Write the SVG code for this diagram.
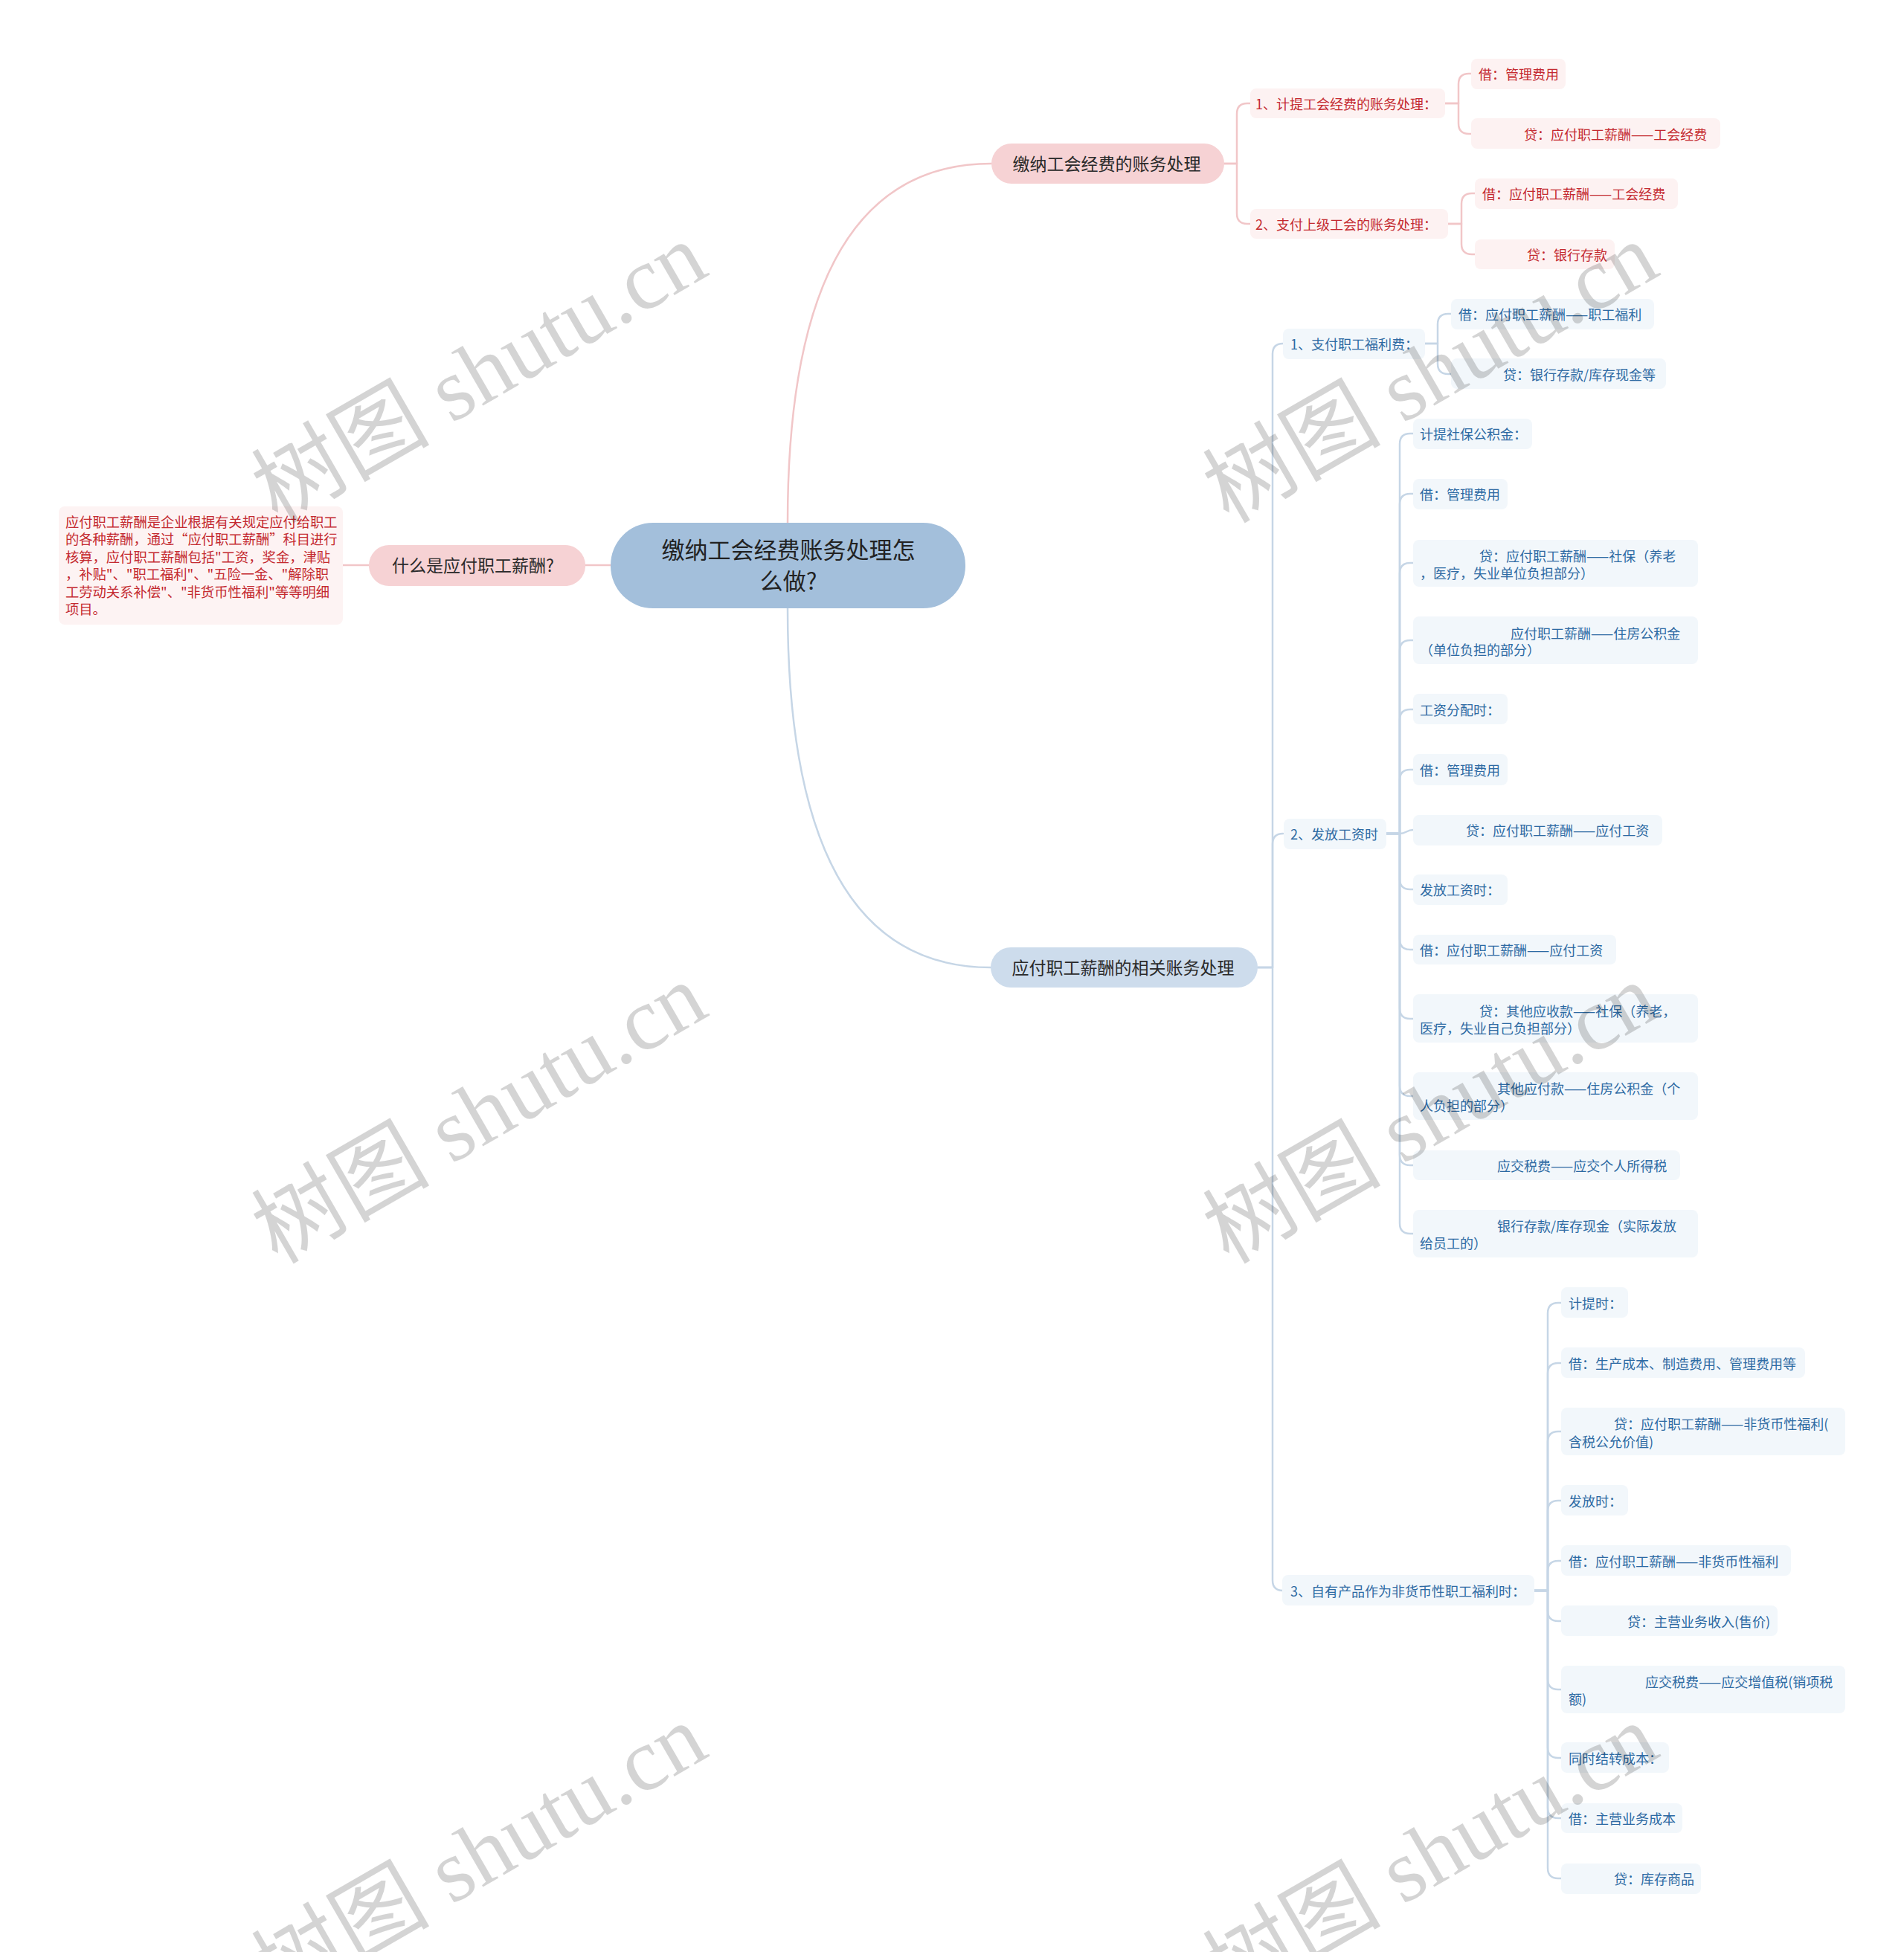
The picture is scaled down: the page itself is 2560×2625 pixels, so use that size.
<svg xmlns="http://www.w3.org/2000/svg" width="2560" height="2625" viewBox="0 0 2560 2625">
<style>
text{font-family:"Noto Sans CJK SC","Noto Sans",sans-serif;dominant-baseline:central}
.c{fill:none;stroke-width:2.5;stroke-linecap:round;stroke-linejoin:round}
.cp{stroke:#f1c6c8}
.cb{stroke:#c6d6e6}
.np{fill:#fdf2f2}
.nb{fill:#f2f7fb}
.tp{fill:#c42a30;font-size:18px}
.tb{fill:#2d6aa3;font-size:18px}
.t1{fill:#2a2a2a;font-size:23px;text-anchor:middle}
.wm{font-family:"Liberation Serif","Noto Sans CJK SC",serif;font-size:120px;fill:#000;fill-opacity:0.17;dominant-baseline:alphabetic}
</style>
<rect width="2560" height="2625" fill="#ffffff"/>

<g id="connectors">
  <path class="c cp" d="M1059,703 Q1059,220 1333,220"/>
  <path class="c cb" d="M1059,818 Q1059,1301 1332,1301"/>
  <path class="c cp" d="M787,760 L821,760"/>
  <path class="c cp" d="M461,760 L496,760"/>
  <!-- pink branch -->
  <path class="c cp" d="M1646,220 L1663,220 L1663,153 Q1663,139 1677,139 L1681,139"/>
  <path class="c cp" d="M1646,220 L1663,220 L1663,287 Q1663,301 1677,301 L1681,301"/>
  <path class="c cp" d="M1943,139 L1961,139 L1961,113 Q1961,99 1975,99 L1978,99"/>
  <path class="c cp" d="M1943,139 L1961,139 L1961,166 Q1961,180 1975,180 L1978,180"/>
  <path class="c cp" d="M1947,301 L1965,301 L1965,274 Q1965,260 1979,260 L1983,260"/>
  <path class="c cp" d="M1947,301 L1965,301 L1965,328 Q1965,342 1979,342 L1983,342"/>
  <!-- blue branch -->
  <path class="c cb" d="M1691,1301 L1711,1301 L1711,476 Q1711,462 1725,462"/>
  <path class="c cb" d="M1691,1301 L1711,1301 L1711,1135 Q1711,1121 1725,1121"/>
  <path class="c cb" d="M1691,1301 L1711,1301 L1711,2125 Q1711,2139 1725,2139"/>
  <path class="c cb" d="M1916,462 L1933,462 L1933,436 Q1933,422 1947,422 L1951,422"/>
  <path class="c cb" d="M1916,462 L1933,462 L1933,489 Q1933,503 1947,503 L1951,503"/>
  <path class="c cb" d="M1864,1121 L1882,1121 L1882,597 Q1882,583 1896,583 L1900,583"/>
  <path class="c cb" d="M1864,1121 L1882,1121 L1882,678 Q1882,664 1896,664 L1900,664"/>
  <path class="c cb" d="M1864,1121 L1882,1121 L1882,771 Q1882,757 1896,757 L1900,757"/>
  <path class="c cb" d="M1864,1121 L1882,1121 L1882,875 Q1882,861 1896,861 L1900,861"/>
  <path class="c cb" d="M1864,1121 L1882,1121 L1882,968 Q1882,954 1896,954 L1900,954"/>
  <path class="c cb" d="M1864,1121 L1882,1121 L1882,1049 Q1882,1035 1896,1035 L1900,1035"/>
  <path class="c cb" d="M1864,1121 L1882,1121 C1891,1121 1891,1116 1900,1116"/>
  <path class="c cb" d="M1864,1121 L1882,1121 L1882,1182 Q1882,1196 1896,1196 L1900,1196"/>
  <path class="c cb" d="M1864,1121 L1882,1121 L1882,1263 Q1882,1277 1896,1277 L1900,1277"/>
  <path class="c cb" d="M1864,1121 L1882,1121 L1882,1356 Q1882,1370 1896,1370 L1900,1370"/>
  <path class="c cb" d="M1864,1121 L1882,1121 L1882,1460 Q1882,1474 1896,1474 L1900,1474"/>
  <path class="c cb" d="M1864,1121 L1882,1121 L1882,1553 Q1882,1567 1896,1567 L1900,1567"/>
  <path class="c cb" d="M1864,1121 L1882,1121 L1882,1645 Q1882,1659 1896,1659 L1900,1659"/>
  <path class="c cb" d="M2063,2139 L2081,2139 L2081,1766 Q2081,1752 2095,1752 L2099,1752"/>
  <path class="c cb" d="M2063,2139 L2081,2139 L2081,1847 Q2081,1833 2095,1833 L2099,1833"/>
  <path class="c cb" d="M2063,2139 L2081,2139 L2081,1939 Q2081,1925 2095,1925 L2099,1925"/>
  <path class="c cb" d="M2063,2139 L2081,2139 L2081,2032 Q2081,2018 2095,2018 L2099,2018"/>
  <path class="c cb" d="M2063,2139 L2081,2139 L2081,2113 Q2081,2099 2095,2099 L2099,2099"/>
  <path class="c cb" d="M2063,2139 L2081,2139 L2081,2166 Q2081,2180 2095,2180 L2099,2180"/>
  <path class="c cb" d="M2063,2139 L2081,2139 L2081,2258 Q2081,2272 2095,2272 L2099,2272"/>
  <path class="c cb" d="M2063,2139 L2081,2139 L2081,2350 Q2081,2364 2095,2364 L2099,2364"/>
  <path class="c cb" d="M2063,2139 L2081,2139 L2081,2431 Q2081,2445 2095,2445 L2099,2445"/>
  <path class="c cb" d="M2063,2139 L2081,2139 L2081,2512 Q2081,2526 2095,2526 L2099,2526"/>
</g>

<g id="root">
  <rect x="821" y="703" width="477" height="115" rx="57" fill="#a3bfdb"/>
  <text x="1060" y="737" font-size="31" fill="#222" text-anchor="middle">缴纳工会经费账务处理怎</text>
  <text x="1060" y="779" font-size="31" fill="#222" text-anchor="middle">么做?</text>
</g>

<g id="what">
  <rect x="496" y="733" width="291" height="55" rx="27" fill="#f6d2d4"/>
  <text class="t1" x="636" y="759">什么是应付职工薪酬?</text>
</g>
<g id="what-desc">
  <rect x="79" y="681" width="382" height="159" rx="8" fill="#fdf3f3"/>
  <text x="88" y="701" font-size="18.3" fill="#c42a30">应付职工薪酬是企业根据有关规定应付给职工</text>
  <text x="88" y="724.4" font-size="18.3" fill="#c42a30">的各种薪酬，通过“应付职工薪酬”科目进行</text>
  <text x="88" y="747.8" font-size="18.3" fill="#c42a30">核算，应付职工薪酬包括"工资，奖金，津贴</text>
  <text x="88" y="771.2" font-size="18.3" fill="#c42a30">，补贴"、"职工福利"、"五险一金、"解除职</text>
  <text x="88" y="794.6" font-size="18.3" fill="#c42a30">工劳动关系补偿"、"非货币性福利"等等明细</text>
  <text x="88" y="818" font-size="18.3" fill="#c42a30">项目。</text>
</g>

<g id="b1">
  <rect x="1333" y="193" width="313" height="54" rx="27" fill="#f6d2d4"/>
  <text class="t1" x="1488" y="219">缴纳工会经费的账务处理</text>
</g>
<g id="b1-1"><rect class="np" x="1681" y="119" width="262" height="40" rx="8"/><text class="tp" x="1688" y="139">1、计提工会经费的账务处理：</text></g>
<g id="b1-2"><rect class="np" x="1681" y="281" width="266" height="40" rx="8"/><text class="tp" x="1688" y="301">2、支付上级工会的账务处理：</text></g>
<g id="b1-1-1"><rect class="np" x="1978" y="79" width="127" height="41" rx="8"/><text class="tp" x="1988" y="99">借：管理费用</text></g>
<g id="b1-1-2"><rect class="np" x="1978" y="159" width="335" height="41" rx="8"/><text class="tp" x="2049" y="180">贷：应付职工薪酬——工会经费</text></g>
<g id="b1-2-1"><rect class="np" x="1983" y="240" width="273" height="41" rx="8"/><text class="tp" x="1993" y="260">借：应付职工薪酬——工会经费</text></g>
<g id="b1-2-2"><rect class="np" x="1983" y="322" width="188" height="40" rx="8"/><text class="tp" x="2053" y="342">贷：银行存款</text></g>

<g id="b2">
  <rect x="1332" y="1274" width="359" height="54" rx="27" fill="#cddcec"/>
  <text class="t1" x="1510" y="1300">应付职工薪酬的相关账务处理</text>
</g>
<g id="b2-1"><rect class="nb" x="1725" y="442" width="191" height="41" rx="8"/><text class="tb" x="1735" y="462">1、支付职工福利费：</text></g>
<g id="b2-1-1"><rect class="nb" x="1951" y="402" width="273" height="41" rx="8"/><text class="tb" x="1961" y="422">借：应付职工薪酬——职工福利</text></g>
<g id="b2-1-2"><rect class="nb" x="1951" y="482" width="289" height="41" rx="8"/><text class="tb" x="2021" y="503">贷：银行存款/库存现金等</text></g>

<g id="b2-2"><rect class="nb" x="1726" y="1101" width="138" height="41" rx="8"/><text class="tb" x="1735" y="1121">2、发放工资时</text></g>
<g id="b2-2-1"><rect class="nb" x="1900" y="563" width="160" height="41" rx="8"/><text class="tb" x="1909" y="583">计提社保公积金：</text></g>
<g id="b2-2-2"><rect class="nb" x="1900" y="644" width="127" height="41" rx="8"/><text class="tb" x="1909" y="664">借：管理费用</text></g>
<g id="b2-2-3"><rect class="nb" x="1900" y="726" width="383" height="63" rx="8"/><text class="tb" x="1989" y="747">贷：应付职工薪酬——社保（养老</text><text class="tb" x="1909" y="770">，医疗，失业单位负担部分）</text></g>
<g id="b2-2-4"><rect class="nb" x="1900" y="829" width="383" height="64" rx="8"/><text class="tb" x="2031" y="851">应付职工薪酬——住房公积金</text><text class="tb" x="1909" y="873">（单位负担的部分）</text></g>
<g id="b2-2-5"><rect class="nb" x="1900" y="933" width="127" height="41" rx="8"/><text class="tb" x="1909" y="954">工资分配时：</text></g>
<g id="b2-2-6"><rect class="nb" x="1900" y="1014" width="127" height="42" rx="8"/><text class="tb" x="1909" y="1035">借：管理费用</text></g>
<g id="b2-2-7"><rect class="nb" x="1900" y="1096" width="335" height="41" rx="8"/><text class="tb" x="1971" y="1116">贷：应付职工薪酬——应付工资</text></g>
<g id="b2-2-8"><rect class="nb" x="1900" y="1176" width="127" height="41" rx="8"/><text class="tb" x="1909" y="1196">发放工资时：</text></g>
<g id="b2-2-9"><rect class="nb" x="1900" y="1257" width="273" height="40" rx="8"/><text class="tb" x="1909" y="1277">借：应付职工薪酬——应付工资</text></g>
<g id="b2-2-10"><rect class="nb" x="1900" y="1337" width="383" height="65" rx="8"/><text class="tb" x="1989" y="1359">贷：其他应收款——社保（养老，</text><text class="tb" x="1909" y="1382">医疗，失业自己负担部分）</text></g>
<g id="b2-2-11"><rect class="nb" x="1900" y="1442" width="383" height="64" rx="8"/><text class="tb" x="2013" y="1463">其他应付款——住房公积金（个</text><text class="tb" x="1909" y="1486">人负担的部分）</text></g>
<g id="b2-2-12"><rect class="nb" x="1900" y="1547" width="359" height="40" rx="8"/><text class="tb" x="2013" y="1567">应交税费——应交个人所得税</text></g>
<g id="b2-2-13"><rect class="nb" x="1900" y="1627" width="383" height="64" rx="8"/><text class="tb" x="2013" y="1648">银行存款/库存现金（实际发放</text><text class="tb" x="1909" y="1671">给员工的）</text></g>

<g id="b2-3"><rect class="nb" x="1724" y="2118" width="339" height="41" rx="8"/><text class="tb" x="1735" y="2139">3、自有产品作为非货币性职工福利时：</text></g>
<g id="b2-3-1"><rect class="nb" x="2099" y="1731" width="90" height="41" rx="8"/><text class="tb" x="2109" y="1752">计提时：</text></g>
<g id="b2-3-2"><rect class="nb" x="2099" y="1812" width="328" height="41" rx="8"/><text class="tb" x="2109" y="1833">借：生产成本、制造费用、管理费用等</text></g>
<g id="b2-3-3"><rect class="nb" x="2099" y="1893" width="382" height="64" rx="8"/><text class="tb" x="2170" y="1914">贷：应付职工薪酬——非货币性福利(</text><text class="tb" x="2109" y="1938">含税公允价值)</text></g>
<g id="b2-3-4"><rect class="nb" x="2099" y="1997" width="90" height="41" rx="8"/><text class="tb" x="2109" y="2018">发放时：</text></g>
<g id="b2-3-5"><rect class="nb" x="2099" y="2078" width="309" height="41" rx="8"/><text class="tb" x="2109" y="2099">借：应付职工薪酬——非货币性福利</text></g>
<g id="b2-3-6"><rect class="nb" x="2099" y="2159" width="291" height="41" rx="8"/><text class="tb" x="2188" y="2180">贷：主营业务收入(售价)</text></g>
<g id="b2-3-7"><rect class="nb" x="2099" y="2240" width="382" height="64" rx="8"/><text class="tb" x="2212" y="2261">应交税费——应交增值税(销项税</text><text class="tb" x="2109" y="2284">额)</text></g>
<g id="b2-3-8"><rect class="nb" x="2099" y="2343" width="145" height="41" rx="8"/><text class="tb" x="2109" y="2364">同时结转成本：</text></g>
<g id="b2-3-9"><rect class="nb" x="2099" y="2425" width="163" height="40" rx="8"/><text class="tb" x="2109" y="2445">借：主营业务成本</text></g>
<g id="b2-3-10"><rect class="nb" x="2099" y="2506" width="188" height="41" rx="8"/><text class="tb" x="2170" y="2526">贷：库存商品</text></g>

<g id="watermark">
  <text class="wm" x="373" y="705" transform="rotate(-30 373 705)">树图 shutu.cn</text>
  <text class="wm" x="1652" y="705" transform="rotate(-30 1652 705)">树图 shutu.cn</text>
  <text class="wm" x="373" y="1701" transform="rotate(-30 373 1701)">树图 shutu.cn</text>
  <text class="wm" x="1652" y="1701" transform="rotate(-30 1652 1701)">树图 shutu.cn</text>
  <text class="wm" x="373" y="2697" transform="rotate(-30 373 2697)">树图 shutu.cn</text>
  <text class="wm" x="1652" y="2697" transform="rotate(-30 1652 2697)">树图 shutu.cn</text>
</g>
</svg>
